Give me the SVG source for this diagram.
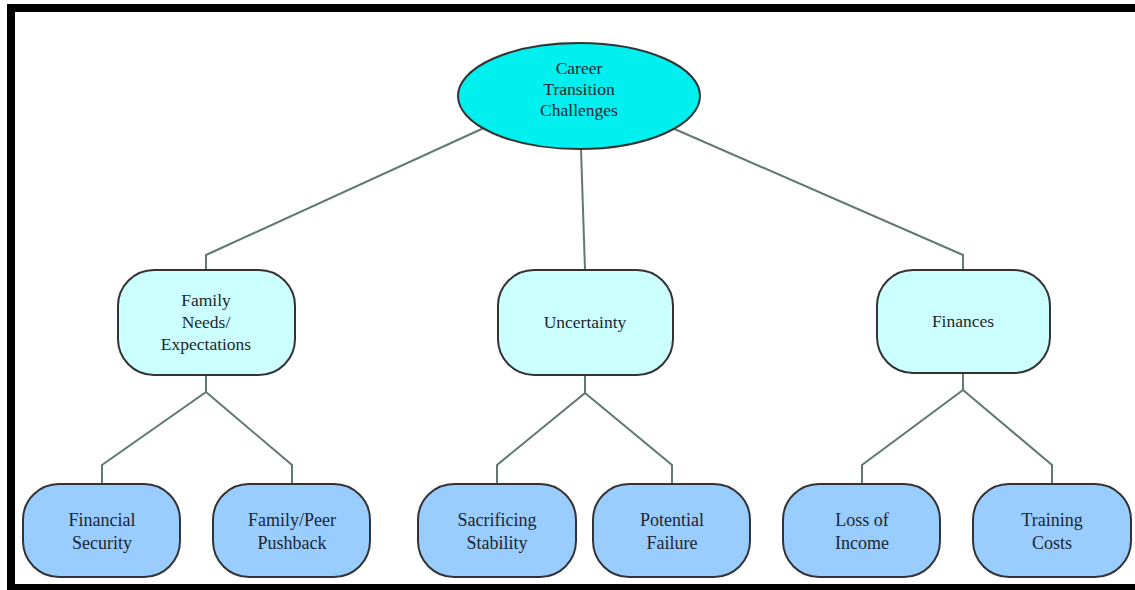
<svg xmlns="http://www.w3.org/2000/svg" width="1135" height="590" viewBox="0 0 1135 590">
<style>
text{font-family:'Liberation Serif','DejaVu Serif','Times New Roman',Times,serif;fill:#1c2630;text-anchor:middle}
.t1{font-size:17.5px}
.t2{font-size:17.5px}
.t3{font-size:18px}
.mid{fill:#ccffff;stroke:#333;stroke-width:2}
.leaf{fill:#99ccff;stroke:#333;stroke-width:2}
.conn{fill:none;stroke:#617a70;stroke-width:2}
</style>
<rect x="0" y="0" width="1135" height="590" fill="#fff"/>
<rect x="11" y="8" width="1140" height="580" fill="none" stroke="#000" stroke-width="8"/>
<g id="connectors" class="conn">
<polyline points="486,127 206,255 206,270"/>
<polyline points="581,149 585,270"/>
<polyline points="670,127 963,255 963,270"/>
<polyline points="206,375 206,392 102,465 102,484"/>
<polyline points="206,392 292,465 292,484"/>
<polyline points="585,375 585,393 497,465 497,484"/>
<polyline points="585,393 672,465 672,484"/>
<polyline points="963,373 963,390 862,465 862,484"/>
<polyline points="963,390 1052,465 1052,484"/>
</g>
<g id="root">
<ellipse cx="579" cy="96" rx="121" ry="53" fill="#00f0f0" stroke="#333" stroke-width="2"/>
<text class="t1" x="579" y="74">Career</text>
<text class="t1" x="579" y="95">Transition</text>
<text class="t1" x="579" y="116">Challenges</text>
</g>
<g id="family">
<rect class="mid" x="118" y="270" width="177" height="105" rx="36"/>
<text class="t2" x="206" y="306">Family</text>
<text class="t2" x="206" y="328">Needs/</text>
<text class="t2" x="206" y="350">Expectations</text>
</g>
<g id="uncertainty">
<rect class="mid" x="498" y="270" width="175" height="105" rx="36"/>
<text class="t2" x="585" y="328">Uncertainty</text>
</g>
<g id="finances">
<rect class="mid" x="877" y="270" width="173" height="103" rx="36"/>
<text class="t2" x="963" y="327">Finances</text>
</g>
<g id="financial-security">
<rect class="leaf" x="23" y="484" width="157" height="93" rx="36"/>
<text class="t3" x="102" y="526">Financial</text>
<text class="t3" x="102" y="549">Security</text>
</g>
<g id="family-peer">
<rect class="leaf" x="213" y="484" width="157" height="93" rx="36"/>
<text class="t3" x="292" y="526">Family/Peer</text>
<text class="t3" x="292" y="549">Pushback</text>
</g>
<g id="sacrificing">
<rect class="leaf" x="418" y="484" width="158" height="93" rx="36"/>
<text class="t3" x="497" y="526">Sacrificing</text>
<text class="t3" x="497" y="549">Stability</text>
</g>
<g id="potential">
<rect class="leaf" x="593" y="484" width="157" height="93" rx="36"/>
<text class="t3" x="672" y="526">Potential</text>
<text class="t3" x="672" y="549">Failure</text>
</g>
<g id="loss">
<rect class="leaf" x="783" y="484" width="157" height="93" rx="36"/>
<text class="t3" x="862" y="526">Loss of</text>
<text class="t3" x="862" y="549">Income</text>
</g>
<g id="training">
<rect class="leaf" x="973" y="484" width="158" height="93" rx="36"/>
<text class="t3" x="1052" y="526">Training</text>
<text class="t3" x="1052" y="549">Costs</text>
</g>
</svg>
